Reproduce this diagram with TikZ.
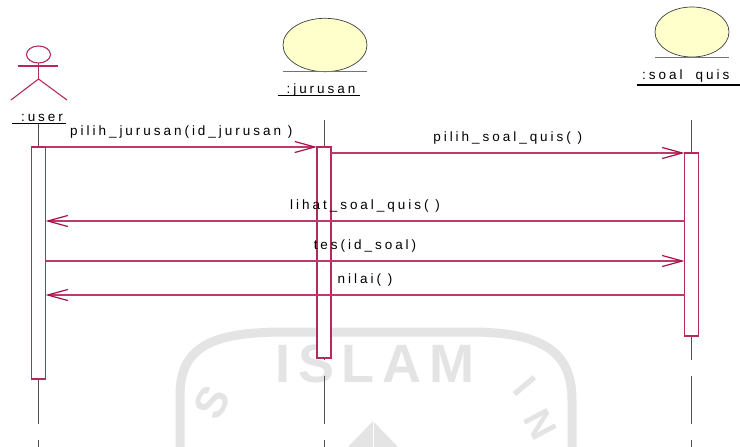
\documentclass[tikz,border=0pt]{standalone}
\usepackage{fontspec}
\setmainfont{Liberation Sans}
\newfontfamily\lsf{Liberation Sans}[LetterSpace=22]
\newfontfamily\wmf{Liberation Sans}[LetterSpace=14]
\usetikzlibrary{arrows.meta,shapes.geometric}
\definecolor{umlred}{HTML}{BE3A68}
\definecolor{tipred}{HTML}{A8104A}
\definecolor{boxred}{HTML}{B52A5C}
\definecolor{lifegray}{HTML}{505050}
\definecolor{entyellow}{HTML}{FFFFCC}
\definecolor{wmgray}{HTML}{E4E4E4}
\begin{document}
\begin{tikzpicture}[x=1pt,y=-1pt,
  actbox/.style={draw=boxred, fill=white, line width=1.1pt, minimum width=14pt, inner sep=0pt, outer sep=0pt, anchor=north},
  msg/.style={draw=umlred, line width=1.1pt, -{Straight Barb[length=20pt,width=11pt,line width=1.2pt,color=tipred]}},
  lifeline/.style={draw=lifegray, line width=0.9pt, dash pattern=on 48pt off 16pt},
  entity/.style={ellipse, draw=black!75, fill=entyellow, line width=0.7pt, inner sep=0pt, outer sep=0pt},
  entline/.style={draw=black!55, line width=0.9pt},
  lbl/.style={font=\fontsize{13.5}{15}\selectfont\lsf, inner sep=0pt, anchor=base},
  uline/.style={draw=black, line width=1.7pt},
  actor/.style={draw=boxred, line width=1.1pt},
  wm/.style={text=wmgray, inner sep=0pt}]
\useasboundingbox (0,0) rectangle (740,447);
\fill[white] (0,0) rectangle (740,447);

% watermark
\draw[wmgray, line width=9pt] (180,470) -- (180,395) .. controls (180,345) and (215,332) .. (285,332) -- (470,332) .. controls (540,332) and (572,350) .. (572,400) -- (572,470);
\node[wm, font=\fontsize{54}{54}\selectfont\bfseries\wmf, anchor=base] (wmislam) at (375,382) {ISLAM};
\node[wm, font=\fontsize{44}{44}\selectfont\bfseries\wmf, rotate=62] (wms) at (212,402) {S};
\node[wm, font=\fontsize{38}{38}\selectfont\bfseries\wmf, rotate=-50] (wmi) at (525,386) {I};
\node[wm, font=\fontsize{38}{38}\selectfont\bfseries\wmf, rotate=-62] (wmn) at (540,424) {N};
\fill[wmgray] (373,421) -- (420,470) -- (326,470) -- cycle;
\draw[white, line width=1pt] (373,421) -- (373,470);

% actor
\draw[actor] (38.5,54.5) ellipse[x radius=12, y radius=8.5];
\draw[actor] (38.5,63) -- (38.5,79);
\draw[actor] (18,66) -- (58,66);
\draw[actor] (11,100) -- (38.5,79) -- (67,100);
\node[lbl] (ulab) at (42,121) {:user};
\draw[uline] (12,123.5) -- (66,123.5);

% entities
\node[entity, minimum width=84pt, minimum height=53.4pt] (ejur) at (325,45) {};
\draw[entline] (ejur.west |- ejur.south) -- (ejur.east |- ejur.south);
\node[lbl] (jlab) at (321,93) {:jurusan};
\draw[uline] (278,95.5) -- (360,95.5);

\node[entity, minimum width=74pt, minimum height=50pt] (esq) at (692,32) {};
\draw[entline] (esq.west |- esq.south) -- (esq.east |- esq.south);
\node[lbl, anchor=base west] (slab) at (642,79.5) {:soal\hspace{13pt}quis};
\draw[uline] (637,85) -- (745,85);

% lifelines
\coordinate (ut) at (38.5,124);
\coordinate (ub) at (38.5,447);
\coordinate (jt) at (324,120);
\coordinate (jb) at (324,447);
\coordinate (st) at (691.5,120);
\coordinate (sb) at (691.5,447);
\draw[lifeline, dash phase=4pt] (ut) -- (ub);
\draw[lifeline] (jt) -- (jb);
\draw[lifeline] (st) -- (sb);

% activation boxes
\node[actbox, minimum height=232pt] (us) at (38.5,147) {};
\node[actbox, minimum height=211pt] (ju) at (324,147) {};
\node[actbox, minimum height=183pt] (sq) at (691.5,153) {};

% messages
\coordinate (m3) at (0,221);
\coordinate (m4) at (0,261);
\coordinate (m5) at (0,295);
\draw[msg] (us.north east) -- node[lbl, midway, yshift=12pt] (l1) {pilih\_jurusan(id\_jurusan )} (ju.north west);
\draw[msg] (ju.east |- sq.north) -- node[lbl, midway, yshift=12pt] (l2) {pilih\_soal\_quis( )} (sq.north west);
\draw[msg] (sq.west |- m3) -- node[lbl, midway, yshift=12pt] (l3) {lihat\_soal\_quis( )} (us.east |- m3);
\draw[msg] (us.east |- m4) -- node[lbl, midway, yshift=12pt] (l4) {tes(id\_soal)} (sq.west |- m4);
\draw[msg] (sq.west |- m5) -- node[lbl, midway, yshift=12pt] (l5) {nilai( )} (us.east |- m5);
\end{tikzpicture}
\end{document}
